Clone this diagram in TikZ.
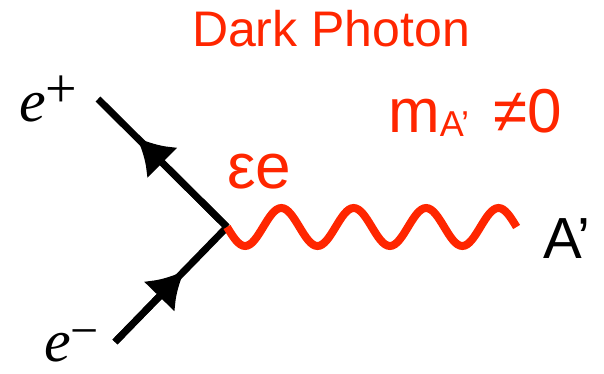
\documentclass[tikz,border=0pt]{standalone}
\usepackage{fontspec}
\setmainfont{Liberation Sans}
\newfontfamily\serifit{Liberation Serif}
\usepackage{xcolor}
\usetikzlibrary{arrows.meta,positioning,calc}
\definecolor{photonred}{RGB}{255,38,0}

\begin{document}
\begin{tikzpicture}[x=1pt, y=-1pt, inner sep=0pt]
        \tikzstyle{fermion} = [draw, line width=7pt]
        \tikzstyle{arrowed} = [fermion, -{Latex[length=36pt,width=44pt]}]
        \tikzstyle{boson} = [draw=photonred, line width=8pt]
        \tikzstyle{redtext} = [text=photonred]
        \useasboundingbox (0,0) rectangle (604,374);

        % vertex and free ends of the lines
        \coordinate (vtx) at (227,227);
        \coordinate (pos) at (98,99);
        \coordinate (ele) at (115,342);

        \node [redtext, anchor=base] (title) at (331,47) {\fontsize{50}{50}\selectfont Dark Photon};
        \node [redtext, anchor=base west] (mass) at (388,133) {\fontsize{62}{62}\selectfont m\raisebox{-4pt}{\fontsize{36}{36}\selectfont A’}\hspace{24pt}≠0};
        \node [redtext, anchor=base west] (coupling) at (227,188) {\fontsize{64}{64}\selectfont εe};
        \node [anchor=base west] (aprime) at (543,258) {\fontsize{58}{58}\selectfont A’};
        \node [anchor=base west] (eplus) at (19,122) {\fontsize{60}{60}\serifit\itshape e\upshape\raisebox{14pt}{\fontsize{56}{56}\selectfont +}};
        \node [anchor=base west, text depth=0pt] (eminus) at (44,361) {\fontsize{60}{60}\serifit\itshape e\upshape\raisebox{14pt}{\fontsize{50}{50}\selectfont −}};

        \path [fermion] (vtx) -- (pos);
        \path [arrowed] (vtx) -- ($(vtx)!0.7!(pos)$);
        \path [fermion] (ele) -- (vtx);
        \path [arrowed] (ele) -- ($(ele)!0.62!(vtx)$);
        % four periods of the wave
        \path [boson] (vtx) \foreach \k in {1,...,4} {
            sin ++(18.1,19) cos ++(18.1,-19) sin ++(18.1,-19) cos ++(18.1,19)
        } coordinate (wend);
    \end{tikzpicture}
\end{document}
